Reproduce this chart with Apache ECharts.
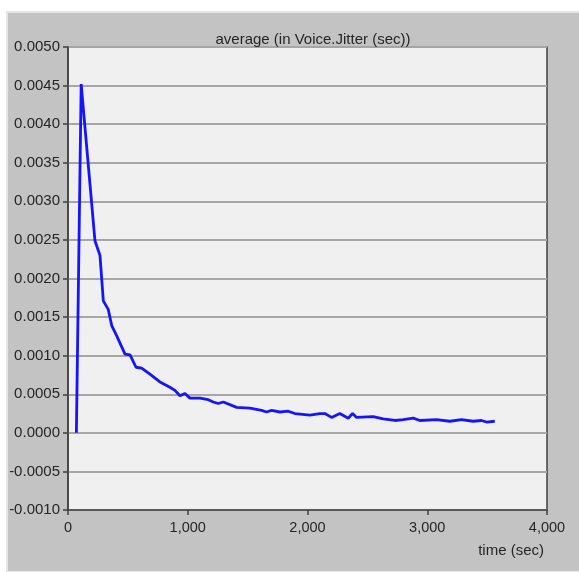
<!DOCTYPE html>
<html>
<head>
<meta charset="utf-8">
<script src="https://cdn.jsdelivr.net/npm/echarts@6/dist/echarts.min.js"></script>
<style>
  html, body { margin: 0; padding: 0; background: #fff; }
  #main { width: 579px; height: 572px; }
</style>
</head>
<body>
<div id="main"></div>
<script>
// time (sec) and average jitter (sec)
var times = [70, 110, 225, 267, 295, 336, 365, 406, 476, 518,
  568, 615, 684, 768, 851, 893, 935, 977, 1018, 1102,
  1171, 1213, 1255, 1297, 1408, 1519, 1617, 1658, 1700, 1770,
  1839, 1895, 2020, 2103, 2145, 2201, 2270, 2340, 2376, 2410,
  2548, 2632, 2730, 2799, 2883, 2938, 3077, 3189, 3286, 3383,
  3453, 3495, 3564]
var jitter = [0, 0.00452, 0.00249, 0.00230, 0.00171, 0.00160, 0.00139, 0.00126, 0.00102, 0.00101,
  0.00085, 0.00084, 0.00076, 0.00066, 0.00059, 0.00055, 0.00048, 0.00051, 0.00045, 0.00045,
  0.00043, 0.00040, 0.00038, 0.00040, 0.00033, 0.00032, 0.00029, 0.00027, 0.00029, 0.00027,
  0.00028, 0.00025, 0.00023, 0.00025, 0.00025, 0.00020, 0.00025, 0.00019, 0.00025, 0.00020,
  0.00021, 0.00018, 0.00016, 0.00017, 0.00019, 0.00016, 0.00017, 0.00015, 0.00017, 0.00015,
  0.00016, 0.00014, 0.00015]

var chartTitle = 'average (in Voice.Jitter (sec))'
var xName = 'time (sec)'

var points = times.map(function (t, i) { return [t, jitter[i]] })

var myChart = echarts.init(document.getElementById('main'))

var font = 'Liberation Sans, Arial, sans-serif'

var option = {
  animation: false,
  backgroundColor: '#fff',
  graphic: [
    {
      type: 'rect',
      left: 6, top: 11,
      shape: { width: 573, height: 560 },
      style: { fill: '#c3c3c3', stroke: '#e6e6e6', lineWidth: 2 },
      z: -10
    }
  ],
  title: {
    text: chartTitle,
    left: 308,
    top: 27,
    textAlign: 'center',
    textStyle: { fontFamily: font, fontSize: 15, fontWeight: 'normal', color: '#262626' }
  },
  grid: {
    left: 68, top: 47, right: 32, bottom: 62,
    show: true,
    backgroundColor: '#f0f0f0',
    borderColor: '#404040',
    borderWidth: 1.5
  },
  xAxis: {
    type: 'value',
    min: 0, max: 4000, interval: 1000,
    name: xName,
    nameLocation: 'end',
    nameGap: -3,
    nameTextStyle: {
      fontFamily: font, fontSize: 15, color: '#262626',
      align: 'right', verticalAlign: 'top', padding: [33, 0, 0, 0]
    },
    axisLine: { show: true, onZero: false, lineStyle: { color: '#404040', width: 1.5 } },
    axisTick: { show: true, length: 5, lineStyle: { color: '#404040', width: 1.5 } },
    axisLabel: {
      margin: 10,
      fontFamily: font, fontSize: 14.5, color: '#262626',
      formatter: function (v) { return v.toLocaleString('en-US') }
    },
    splitLine: { show: false }
  },
  yAxis: {
    type: 'value',
    min: -0.001, max: 0.005, interval: 0.0005,
    axisLine: { show: true, lineStyle: { color: '#404040', width: 1.5 } },
    axisTick: { show: true, length: 5, lineStyle: { color: '#404040', width: 1.5 } },
    axisLabel: {
      margin: 8,
      fontFamily: font, fontSize: 15, color: '#262626',
      formatter: function (v) { return v.toFixed(4) }
    },
    splitLine: { show: true, lineStyle: { color: '#a6a6a6', width: 2 } }
  },
  series: [
    {
      type: 'line',
      data: points,
      symbol: 'none',
      lineStyle: { color: '#1414ff', width: 2.8 }
    }
  ]
}

myChart.setOption(option)
</script>
</body>
</html>
